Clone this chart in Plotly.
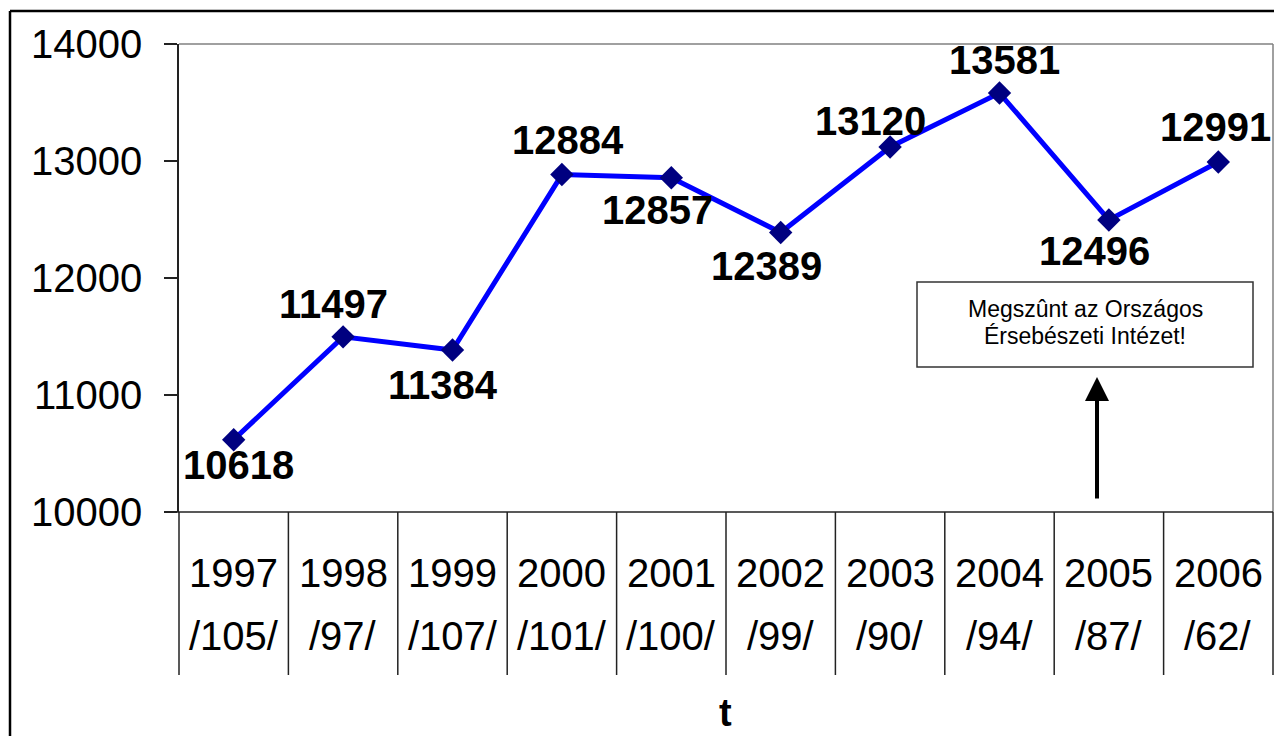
import plotly.graph_objects as go

years = ["1997", "1998", "1999", "2000", "2001", "2002", "2003", "2004", "2005", "2006"]
sub_labels = ["/105/", "/97/", "/107/", "/101/", "/100/", "/99/", "/90/", "/94/", "/87/", "/62/"]
values = [10618, 11497, 11384, 12884, 12857, 12389, 13120, 13581, 12496, 12991]
y_ticks = [10000, 11000, 12000, 13000, 14000]
note_lines = ["Megszûnt az Országos", "Érsebészeti Intézet!"]
x_title = "t"

# label offsets (pixels) relative to each point
label_dx = [5, -10, -10, 6, -14, -14, -20, 5, -14, -3]
label_dy = [-25, 33, -35, 35, -32, -34, 26, 33, -31, 35]

# the page body has an 8px margin; work in screen coordinates
OFF = 8
W, H = 1282 - 2 * OFF, 744 - 2 * OFF
L, T = 179 - OFF, 44 - OFF
PLOT_R, PLOT_B = 1273 - OFF, 512 - OFF
R, B = W - PLOT_R, H - PLOT_B
PW = PLOT_R - L
PH = PLOT_B - T

def px(x):
    return (x - OFF - L) / PW

def py(y):
    return (PLOT_B - (y - OFF)) / PH

FONT = "Liberation Sans, Arial, sans-serif"

fig = go.Figure()
fig.add_trace(go.Scatter(
    x=years, y=values, mode="lines+markers",
    line=dict(color="#0000FF", width=5),
    marker=dict(symbol="diamond", size=18, color="#000080"),
    hoverinfo="skip", showlegend=False,
))

annotations = []
for i, (yr, v) in enumerate(zip(years, values)):
    annotations.append(dict(
        x=i, y=v, xref="x", yref="y", text=f"<b>{v}</b>", showarrow=False,
        xshift=label_dx[i], yshift=label_dy[i],
        font=dict(family=FONT, size=40, color="black"),
        xanchor="center", yanchor="middle",
    ))
    annotations.append(dict(
        x=i, y=py(573), xref="x", yref="paper", text=yr, showarrow=False,
        font=dict(family=FONT, size=40, color="black"),
        xanchor="center", yanchor="middle",
    ))
    annotations.append(dict(
        x=i, y=py(636), xref="x", yref="paper", text=sub_labels[i], showarrow=False,
        font=dict(family=FONT, size=40, color="black"),
        xanchor="center", yanchor="middle",
    ))

annotations.append(dict(
    x=px(725), y=py(735), xref="paper", yref="paper", text=f"<b>{x_title}</b>",
    showarrow=False, font=dict(family=FONT, size=38, color="black"),
    xanchor="center", yanchor="bottom", borderpad=0,
))
for line_text, line_y in zip(note_lines, [309, 336]):
    annotations.append(dict(
        x=px(1085), y=py(line_y), xref="paper", yref="paper", text=line_text,
        showarrow=False, font=dict(family=FONT, size=23, color="black"),
        xanchor="center", yanchor="middle",
    ))
annotations.append(dict(
    x=px(1097), y=py(377), xref="paper", yref="paper", text="",
    showarrow=True, ax=0, ay=123, arrowhead=2, arrowwidth=4, arrowsize=1.2,
    arrowcolor="black", standoff=0,
))

shapes = []
# plot area top/right grey border
shapes.append(dict(type="line", xref="paper", yref="paper", x0=0, x1=1, y0=1, y1=1,
                   line=dict(color="#808080", width=1.5)))
shapes.append(dict(type="line", xref="paper", yref="paper", x0=1, x1=1, y0=0, y1=1,
                   line=dict(color="#808080", width=1.5)))
# category separators
for i in range(len(years) + 1):
    shapes.append(dict(type="line", xref="paper", yref="paper",
                       x0=i / len(years), x1=i / len(years), y0=0, y1=py(675),
                       line=dict(color="#222222", width=1.5)))
# bottom axis line extended left
shapes.append(dict(type="line", xref="paper", yref="paper", x0=px(166), x1=1, y0=0, y1=0,
                   line=dict(color="#222222", width=1.5)))
# annotation box
shapes.append(dict(type="rect", xref="paper", yref="paper",
                   x0=px(917), x1=px(1253), y0=py(367), y1=py(282),
                   line=dict(color="#333333", width=1.5), fillcolor="white", layer="below"))
# outer chart frame (top and left edges visible)
shapes.append(dict(type="line", xref="paper", yref="paper", x0=px(10), x1=px(1290),
                   y0=py(11), y1=py(11), line=dict(color="black", width=2.5)))
shapes.append(dict(type="line", xref="paper", yref="paper", x0=px(10), x1=px(10),
                   y0=py(11), y1=py(760), line=dict(color="black", width=2.5)))

fig.update_layout(
    width=W, height=H,
    margin=dict(l=L, r=R, t=T, b=B, autoexpand=False),
    paper_bgcolor="white", plot_bgcolor="white",
    annotations=annotations, shapes=shapes,
    xaxis=dict(type="category", range=[-0.5, 9.5], showticklabels=False,
               showgrid=False, zeroline=False, showline=False, ticks=""),
    yaxis=dict(range=[10000, 14000], tickvals=y_ticks,
               ticktext=[str(v) for v in y_ticks],
               ticks="outside", ticklen=13, tickwidth=1.5, tickcolor="#222222",
               showline=True, linecolor="#222222", linewidth=1.5,
               showgrid=False, zeroline=False, ticklabelstandoff=14,
               tickfont=dict(family=FONT, size=40, color="black")),
    font=dict(family=FONT),
)

fig.write_html("out.html")
